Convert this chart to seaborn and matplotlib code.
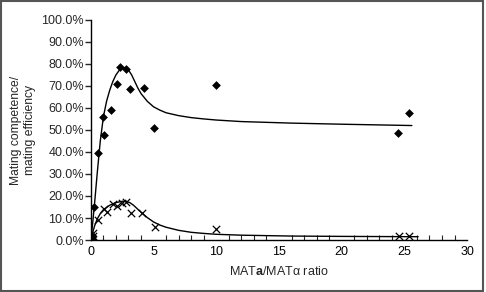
import matplotlib
matplotlib.use('Agg')
import matplotlib.pyplot as plt
import seaborn as sns
from matplotlib.ticker import MultipleLocator, FuncFormatter
from matplotlib.patches import Rectangle

# measured points
comp_x = [0.05, 0.1, 0.27, 0.56, 0.93, 1.06, 1.62, 2.1, 2.3, 2.83, 3.15, 4.22, 5.03, 10.0, 24.5, 25.4]
comp_y = [0.5, 1.5, 14.8, 39.4, 56.0, 47.7, 59.0, 70.9, 78.5, 77.6, 68.6, 69.2, 50.9, 70.5, 48.5, 57.5]

eff_x = [0.05, 0.1, 0.15, 0.2, 0.53, 1.04, 1.25, 1.78, 2.05, 2.5, 2.77, 3.22, 4.1, 5.1, 10.0, 24.6, 25.4]
eff_y = [0.3, 1.0, 2.0, 3.0, 9.1, 14.1, 12.9, 16.4, 15.6, 17.0, 17.4, 12.1, 12.4, 6.0, 5.0, 1.8, 1.9]

# fitted curves
comp_fit_x = [0, 0.15, 0.3, 0.5, 0.75, 1.0, 1.25, 1.5, 1.75, 2.0, 2.25, 2.5, 2.75, 3.0, 3.25, 3.5,
              3.75, 4.0, 4.5, 5.0, 5.5, 6.0, 7.0, 8.0, 9.0, 10.0, 12.0, 16.0, 20.0, 25.6]
comp_fit_y = [0, 8.0, 17.0, 30.0, 45.0, 56.0, 63.0, 68.0, 72.0, 75.0, 77.0, 78.3, 78.3, 77.2, 75.0, 72.0,
              69.0, 66.5, 63.0, 60.5, 59.0, 57.8, 56.5, 55.6, 55.0, 54.5, 53.8, 53.1, 52.6, 52.0]

eff_fit_x = [0, 0.15, 0.3, 0.5, 0.75, 1.0, 1.5, 2.0, 2.5, 2.8, 3.1, 3.4, 3.7, 4.0, 4.5, 5.0, 5.5,
             6.0, 7.0, 8.0, 9.0, 10.0, 12.0, 16.0, 20.0, 26.1]
eff_fit_y = [0, 3.5, 6.5, 9.5, 12.0, 13.8, 15.8, 17.0, 17.6, 17.6, 17.0, 15.8, 14.2, 12.6, 10.2, 8.2, 6.8,
             5.8, 4.4, 3.5, 3.0, 2.6, 2.2, 1.8, 1.65, 1.5]

sns.set_style("white")
plt.rcParams['font.family'] = ['Liberation Sans', 'DejaVu Sans']
plt.rcParams['mathtext.fontset'] = 'custom'
plt.rcParams['mathtext.rm'] = 'Liberation Sans'
plt.rcParams['mathtext.bf'] = 'Liberation Sans:bold'

fig = plt.figure(figsize=(4.86, 2.92), dpi=100)
ax = fig.add_axes([0.187, 0.178, 0.774, 0.754])

sns.lineplot(x=comp_fit_x, y=comp_fit_y, sort=False, estimator=None, color='black', lw=1.0, ax=ax)
sns.lineplot(x=eff_fit_x, y=eff_fit_y, sort=False, estimator=None, color='black', lw=1.0, ax=ax)
sns.scatterplot(x=comp_x, y=comp_y, marker='D', s=20, color='black', edgecolor='black', linewidth=0, ax=ax, zorder=3)
sns.scatterplot(x=eff_x, y=eff_y, marker='x', s=28, color='black', linewidth=0.9, ax=ax, zorder=3)

ax.set_xlim(0, 30)
ax.set_ylim(0, 100)
ax.xaxis.set_major_locator(MultipleLocator(5))
ax.xaxis.set_minor_locator(MultipleLocator(1))
ax.yaxis.set_major_locator(MultipleLocator(10))
ax.yaxis.set_major_formatter(FuncFormatter(lambda v, p: '%.1f%%' % v))

for s in ['top', 'right']:
    ax.spines[s].set_visible(False)
for s in ['left', 'bottom']:
    ax.spines[s].set_color('black')
    ax.spines[s].set_linewidth(1.0)

ax.tick_params(axis='x', which='major', direction='inout', length=7, width=1, labelsize=9, pad=1, colors='black')
ax.tick_params(axis='x', which='minor', direction='in', length=3.5, width=0.8, bottom=True)
ax.tick_params(axis='y', which='major', direction='out', length=4, width=1, labelsize=9, pad=1, left=True)

ax.set_xlabel(r'MAT$\mathbf{a}$/MAT' + '\u03b1 ratio', fontsize=9, labelpad=5)
ax.set_ylabel('Mating competence/\nmating efficiency', fontsize=8.7, labelpad=4, linespacing=1.15)

fig.patches.append(Rectangle((0.003, 0.005), 0.99, 0.99, transform=fig.transFigure,
                             fill=False, edgecolor='#555555', linewidth=1.5))

fig.savefig('out.png', dpi=100)
